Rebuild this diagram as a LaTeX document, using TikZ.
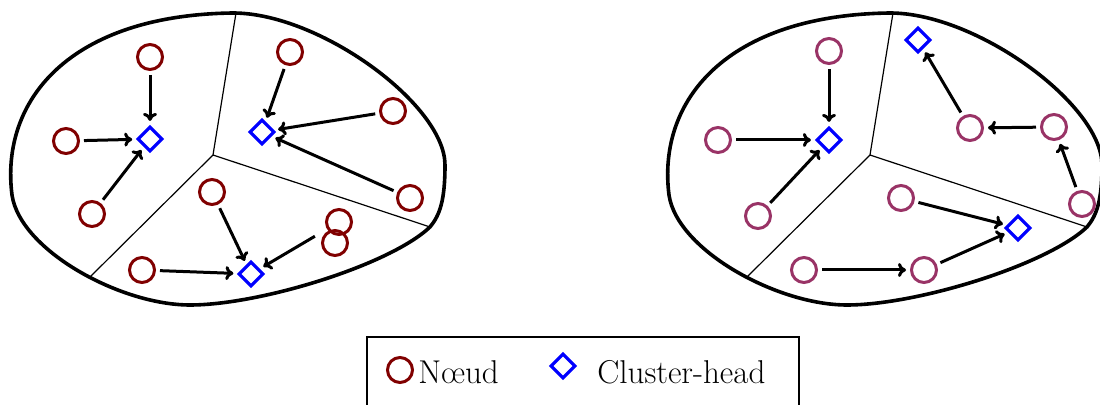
\documentclass[tikz,border=0pt]{standalone}
\usetikzlibrary{shapes.geometric,arrows.meta}
\definecolor{nodered}{HTML}{800000}
\definecolor{nodepurple}{HTML}{993366}
\definecolor{chblue}{HTML}{0000FF}
\begin{document}
\begin{tikzpicture}[x=0.5pt,y=-0.5pt,
  nd/.style={circle,draw=nodered,line width=1.5pt,minimum size=12.5pt,inner sep=0pt},
  ndp/.style={circle,draw=nodepurple,line width=1.5pt,minimum size=12.5pt,inner sep=0pt},
  ch/.style={diamond,draw=chblue,line width=1.6pt,minimum size=12.5pt,inner sep=0pt,aspect=1},
  link/.style={line width=1.5pt,-{To[length=4pt,width=7pt]},shorten <=2pt,shorten >=2pt},
  border/.style={line width=1.8pt},
  part/.style={line width=0.6pt}]
\useasboundingbox (0,0) rectangle (1100,405);
\clip (0,0) rectangle (1100,405);
% ---------- outlines ----------
\foreach \dx in {0,657}{
\begin{scope}[xshift=\dx*0.5pt]
\draw[border] (12,195) .. controls (0,100) and (70,15) .. (233,13)
  .. controls (320,13) and (445,105) .. (445,165)
  .. controls (445,200) and (440,215) .. (430,227)
  .. controls (390,265) and (260,305) .. (190,305)
  .. controls (120,305) and (20,250) .. (12,195) -- cycle;
\coordinate (c\dx) at (213,155);
\coordinate (t\dx) at (236,13);
\coordinate (b\dx) at (90,277);
\coordinate (r\dx) at (430,227);
\draw[part] (c\dx) -- (t\dx) (c\dx) -- (b\dx) (c\dx) -- (r\dx);
\end{scope}}
% ---------- left network ----------
\node[nd] (a1) at (150,57) {};
\node[nd] (a2) at (66,141) {};
\node[nd] (a3) at (92,214) {};
\node[ch] (h1) at (150,139) {};
\node[nd] (a4) at (290,52) {};
\node[nd] (a5) at (393,111) {};
\node[nd] (a6) at (410,198) {};
\node[ch] (h2) at (262,132) {};
\node[nd] (a7) at (212,192) {};
\node[nd] (a8) at (339,222) {};
\node[nd] (a9) at (335,243) {};
\node[nd] (a10) at (142,270) {};
\node[ch] (h3) at (251,274) {};
\draw[link] (a1) -- (h1);
\draw[link] (a2) -- (h1);
\draw[link] (a3) -- (h1);
\draw[link] (a4) -- (h2);
\draw[link] (a5) -- (h2);
\draw[link] (a6) -- (h2);
\draw[link] (a7) -- (h3);
\draw[link,shorten <=7pt] (a8) -- (h3);
\draw[link] (a10) -- (h3);
% ---------- right network ----------
\node[ndp] (p1) at (829,51) {};
\node[ndp] (p2) at (718,140) {};
\node[ndp] (p3) at (758,216) {};
\node[ch] (k1) at (829,140) {};
\node[ch] (k2) at (918,40) {};
\node[ndp] (p4) at (970,128) {};
\node[ndp] (p5) at (1054,127) {};
\node[ndp] (p6) at (1082,204) {};
\node[ndp] (p7) at (901,198) {};
\node[ndp] (p8) at (804,270) {};
\node[ndp] (p9) at (924,270) {};
\node[ch] (k3) at (1018,228) {};
\draw[link] (p1) -- (k1);
\draw[link] (p2) -- (k1);
\draw[link] (p3) -- (k1);
\draw[link] (p4) -- (k2);
\draw[link] (p5) -- (p4);
\draw[link] (p6) -- (p5);
\draw[link] (p7) -- (k3);
\draw[link] (p8) -- (p9);
\draw[link] (p9) -- (k3);
% ---------- legend ----------
\draw[line width=0.75pt] (367,337) rectangle (799,430);
\node[nd] (lc) at (400,370) {};
\node[anchor=west,inner sep=0pt,font=\fontsize{16.5}{19}\selectfont] (lt1) at (418,372) {Nœud};
\node[ch] (ld) at (563,366) {};
\node[anchor=west,inner sep=0pt,font=\fontsize{16.5}{19}\selectfont] (lt2) at (597,372) {Cluster-head};
\end{tikzpicture}
\end{document}
